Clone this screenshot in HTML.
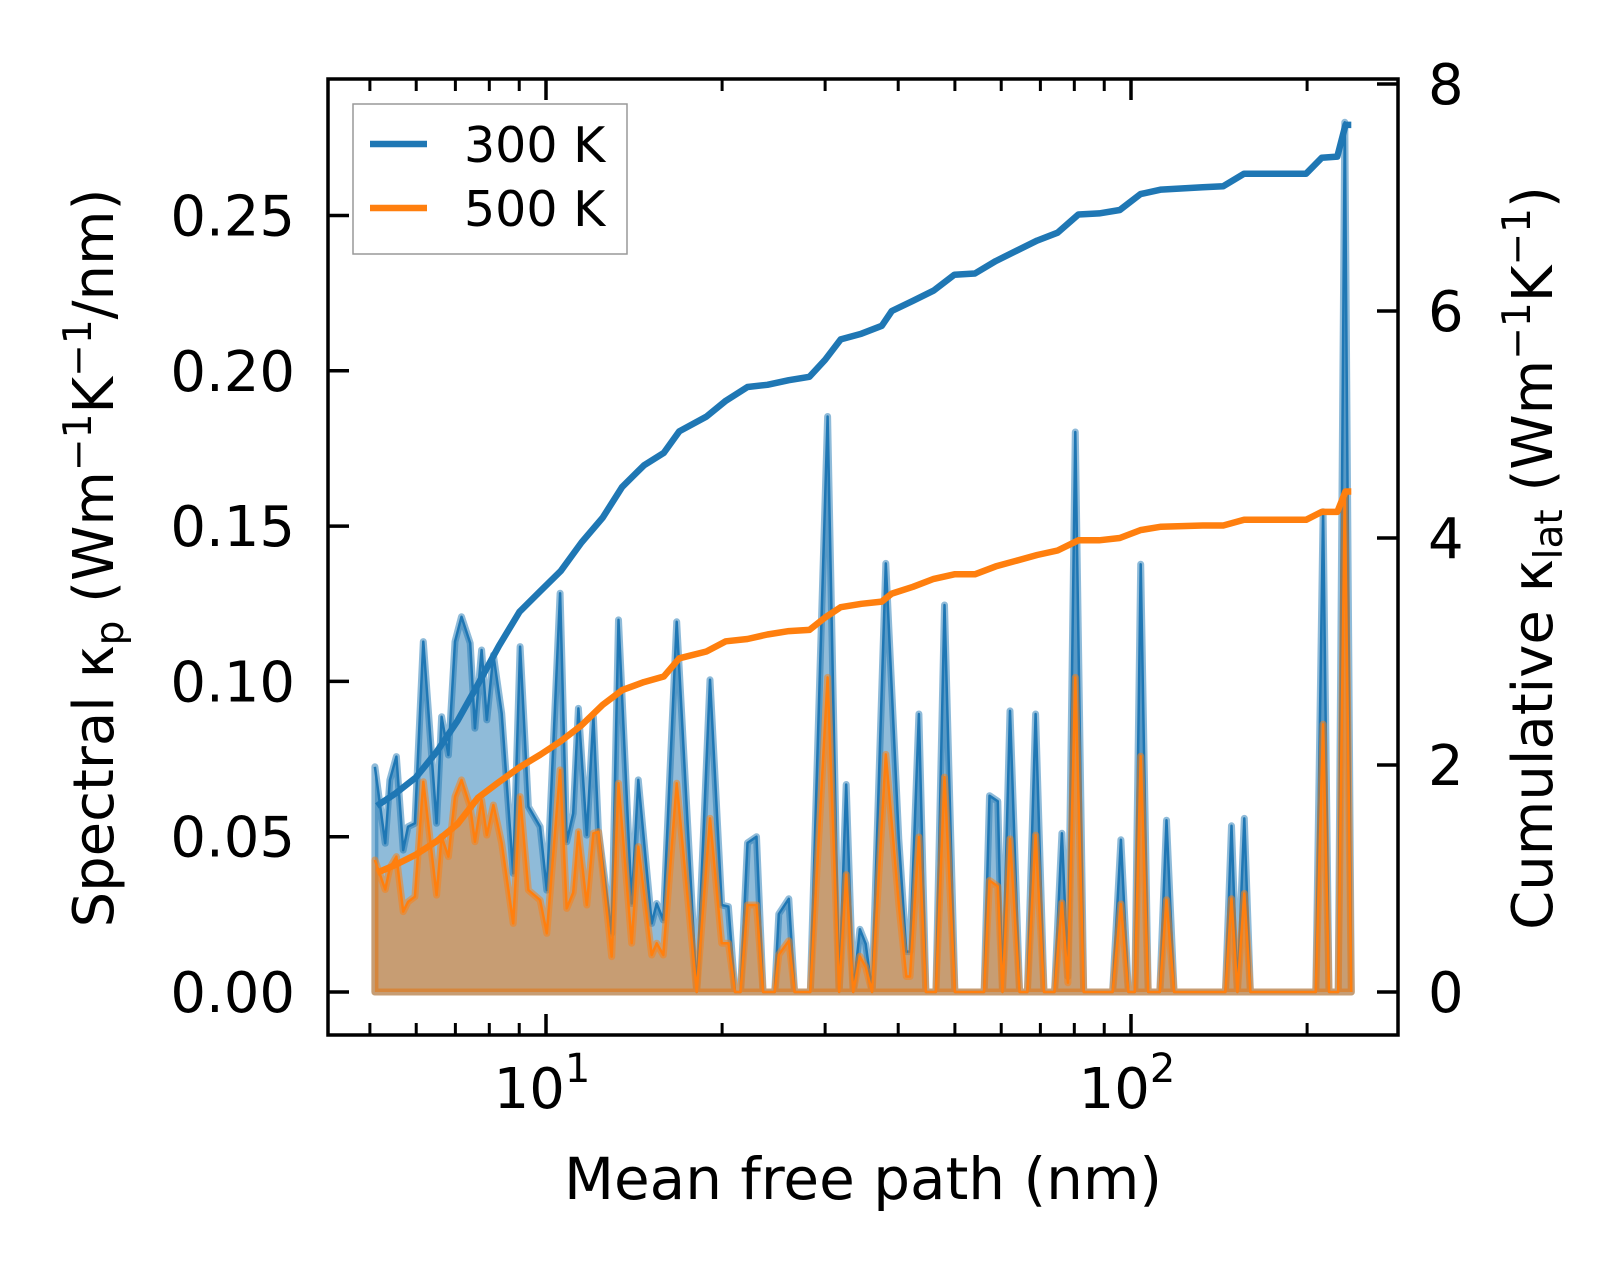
<!DOCTYPE html>
<html><head><meta charset="utf-8"><style>
html,body{margin:0;padding:0;background:#fff}
svg{display:block}
text{font-family:"DejaVu Sans","Liberation Sans",sans-serif;fill:#000}
</style></head><body>
<svg id="chart" width="1623" height="1273" viewBox="0 0 1623 1273" xmlns="http://www.w3.org/2000/svg">
<g id="plot"></g>
</svg>
<script>
// Spectral kappa data (mean free path in nm)
const mfp = [5.1,5.31,5.41,5.55,5.70,5.81,5.97,6.17,6.50,6.63,6.81,6.99,7.17,7.42,7.56,7.76,7.92,8.13,8.40,8.79,9.03,9.33,9.77,10.03,10.57,10.85,11.13,11.36,11.74,12.05,12.29,12.95,13.30,14.01,14.38,15.16,15.46,15.87,16.73,18.10,19.07,19.97,20.5,21.04,21.5,22.1,22.9,23.5,24.6,25.0,26.0,26.6,28.3,30.3,31.7,32.6,33.5,34.4,35.2,36.1,38.1,40.1,41.3,41.9,43.4,44.6,46.4,48.0,50.0,56.1,57.3,59.2,60.3,62.1,64.5,66.5,68.7,71,74,76.2,78,80.3,83,93,96.1,99,101.5,103.9,107,112,115,118.5,145,148.5,152,156.2,160,207,213,218,226,232,238];
const spec300 = [.0725,.0479,.0683,.0758,.0457,.0532,.0543,.1128,.0543,.0886,.0763,.1128,.1208,.1123,.0849,.1101,.0876,.1085,.0897,.0382,.1112,.0597,.0532,.0328,.1284,.0484,.0575,.0913,.0505,.0886,.0522,.0189,.1198,.0285,.0683,.0221,.0285,.0232,.1192,0,.1005,.0280,.0275,0,0,.048,.050,0,0,.0251,.030,0,0,.1853,0,.0668,0,.0202,.0155,0,.138,.0493,.013,.013,.0895,0,0,.1246,0,0,.0632,.0614,0,.0905,0,0,.0895,0,0,.0511,.005,.1803,0,0,.049,0,0,.1377,0,0,.0553,0,0,.0535,0,.0559,0,0,.1546,0,0,.280,0];
const spec500 = [.0425,.033,.040,.0436,.0259,.029,.0307,.0677,.0312,.0500,.0436,.0629,.0683,.0597,.0484,.0618,.0505,.0602,.0479,.0221,.0629,.0328,.0296,.0189,.0715,.0269,.0320,.0516,.0280,.0511,.0516,.0114,.0672,.0157,.0468,.0119,.0157,.0119,.0672,0,.0559,.0157,.0157,0,0,.028,.028,0,0,.012,.0165,0,0,.1013,0,.0378,0,.0115,.008,0,.0765,.0283,.005,.005,.0499,0,0,.0692,0,0,.0359,.034,0,.0493,0,0,.0505,0,0,.0287,.003,.1013,0,0,.0283,0,0,.0759,0,0,.0297,0,0,.030,0,.0317,0,0,.0862,0,0,.160,0];
// Cumulative kappa data
const cumX = [5.14,5.53,5.99,6.51,7.06,7.65,8.31,9.01,9.77,10.6,11.5,12.5,13.5,14.7,15.9,16.9,18.8,20.3,22.1,23.9,26.0,28.2,30.0,31.9,34.6,37.5,39.0,42.4,46.0,49.9,54.1,58.7,63.7,69.1,74.9,81.3,88.2,95.7,103.8,112.6,132.6,143.8,156.1,199.2,211.8,225.2,232.6,238];
const cum300 = [1.64,1.75,1.89,2.12,2.39,2.71,3.05,3.35,3.53,3.71,3.96,4.18,4.45,4.64,4.75,4.94,5.07,5.21,5.33,5.35,5.39,5.42,5.57,5.75,5.80,5.87,6.00,6.09,6.18,6.32,6.33,6.44,6.53,6.62,6.69,6.85,6.86,6.89,7.03,7.07,7.09,7.10,7.21,7.21,7.35,7.36,7.64,7.64];
const cum500 = [1.05,1.12,1.21,1.33,1.48,1.71,1.85,1.98,2.09,2.21,2.35,2.53,2.66,2.73,2.78,2.94,3.00,3.09,3.11,3.15,3.18,3.19,3.30,3.39,3.42,3.44,3.51,3.57,3.64,3.68,3.68,3.75,3.80,3.85,3.89,3.98,3.98,4.00,4.07,4.10,4.11,4.11,4.16,4.16,4.23,4.23,4.41,4.41];
const leftTicks = [0,0.05,0.10,0.15,0.20,0.25];
const leftTickLabels = ["0.00","0.05","0.10","0.15","0.20","0.25"];
const rightTicks = [0,2,4,6,8];
const xMajor = [10,100];
const xMinor = [5,6,7,8,9,20,30,40,50,60,70,80,90,200];

const L=328,R=1398,T=79,B=1035;
const X = v => 546 + (Math.log10(v)-1)*585;
const YL = v => 992 - v*3106;
const YR = v => 992 - v*113.5;
const NS="http://www.w3.org/2000/svg";
const g=document.getElementById('plot');
function mk(tag,attrs,parent){const e=document.createElementNS(NS,tag);for(const k in attrs)e.setAttribute(k,attrs[k]);(parent||g).appendChild(e);return e;}

function specPath(xs,ys){let d='M'+X(xs[0]).toFixed(1)+','+YL(0);xs.forEach((x,i)=>{d+='L'+X(x).toFixed(1)+','+YL(ys[i]).toFixed(1);});d+='L'+X(xs[xs.length-1]).toFixed(1)+','+YL(0)+'Z';return d;}
function linePath(xs,ys,yf){return xs.map((x,i)=>(i?'L':'M')+X(x).toFixed(1)+','+yf(ys[i]).toFixed(1)).join('');}

const clip=mk('clipPath',{id:'cp'});mk('rect',{x:L,y:T,width:R-L,height:B-T},clip);
const series=[[spec300,'31,119,180','#1f77b4','spectral-300k'],[spec500,'255,127,14','#ff7f0e','spectral-500k']];
series.forEach(([ys,rgb,col,nm])=>{
  const f=mk('path',{d:specPath(mfp,ys),fill:'rgba('+rgb+',0.5)',stroke:'rgba('+rgb+',0.5)','stroke-width':7,'stroke-linejoin':'round','clip-path':'url(#cp)'});
  
  
  const l=mk('path',{d:linePath(mfp,ys,YL),fill:'none',stroke:col,'stroke-width':2.5,'stroke-linejoin':'round','clip-path':'url(#cp)'});
  
  
});
const c3=mk('path',{d:linePath(cumX,cum300,YR),fill:'none',stroke:'#1f77b4','stroke-width':6.5,'stroke-linejoin':'round'});


const c5=mk('path',{d:linePath(cumX,cum500,YR),fill:'none',stroke:'#ff7f0e','stroke-width':6.5,'stroke-linejoin':'round'});



// ticks
leftTicks.forEach((v,i)=>{
  const y=YL(v);
  const t=mk('line',{x1:L,x2:L+21,y1:y,y2:y,stroke:'#000','stroke-width':3.5});
  
  
  const tx=mk('text',{x:295,y:y+20,'text-anchor':'end','font-size':56});
  tx.textContent=leftTickLabels[i];
  
  
});
rightTicks.forEach(v=>{
  const y=YR(v);
  const t=mk('line',{x1:R-21,x2:R,y1:y,y2:y,stroke:'#000','stroke-width':3.5});
  
  
  const tx=mk('text',{x:1428,y:y+20,'font-size':56});
  tx.textContent=String(v);
  
  
});
xMajor.forEach((v,i)=>{
  const x=X(v);
  [[B,B-21],[T,T+21]].forEach(([a,b])=>{
    const t=mk('line',{x1:x,x2:x,y1:a,y2:b,stroke:'#000','stroke-width':3.5});
    
    
  });
  const tx=mk('text',{x:x-4,y:1108,'text-anchor':'middle','font-size':56});
  
  
  tx.appendChild(document.createTextNode('10'));
  const sup=mk('tspan',{dy:-26,'font-size':40},tx);sup.textContent=String(i+1);
});
xMinor.forEach(v=>{
  const x=X(v);
  [[B,B-12],[T,T+12]].forEach(([a,b])=>{
    const t=mk('line',{x1:x,x2:x,y1:a,y2:b,stroke:'#000','stroke-width':3});
    
    
  });
});
const frame=mk('rect',{x:L,y:T,width:R-L,height:B-T,fill:'none',stroke:'#000','stroke-width':3.5});


</script>
<svg style="position:absolute;left:0;top:0" width="1623" height="1273">
  <g>
    <rect x="353" y="104" width="274" height="150" fill="#fff" fill-opacity="0.8" stroke="#999" stroke-width="1.5"/>
    <line x1="370" x2="427" y1="144" y2="144" stroke="#1f77b4" stroke-width="6.5"/>
    <text x="464" y="162" font-size="49">300 K</text>
    <line x1="370" x2="427" y1="208" y2="208" stroke="#ff7f0e" stroke-width="6.5"/>
    <text x="464" y="226" font-size="49">500 K</text>
  </g>
  <text x="863" y="1199" text-anchor="middle" font-size="58">Mean free path (nm)</text>
  <text transform="translate(113,558) rotate(-90)" text-anchor="middle" font-size="56">Spectral κ<tspan font-size="39" dy="10">p</tspan><tspan dy="-10"> (Wm</tspan><tspan font-size="39" dy="-22">−1</tspan><tspan dy="22">K</tspan><tspan font-size="39" dy="-22">−1</tspan><tspan dy="22">/nm)</tspan></text>
  <text transform="translate(1552,558) rotate(-90)" text-anchor="middle" font-size="56">Cumulative κ<tspan font-size="39" dy="10">lat</tspan><tspan dy="-10"> (Wm</tspan><tspan font-size="39" dy="-22">−1</tspan><tspan dy="22">K</tspan><tspan font-size="39" dy="-22">−1</tspan><tspan dy="22">)</tspan></text>
</svg>
</body></html>
